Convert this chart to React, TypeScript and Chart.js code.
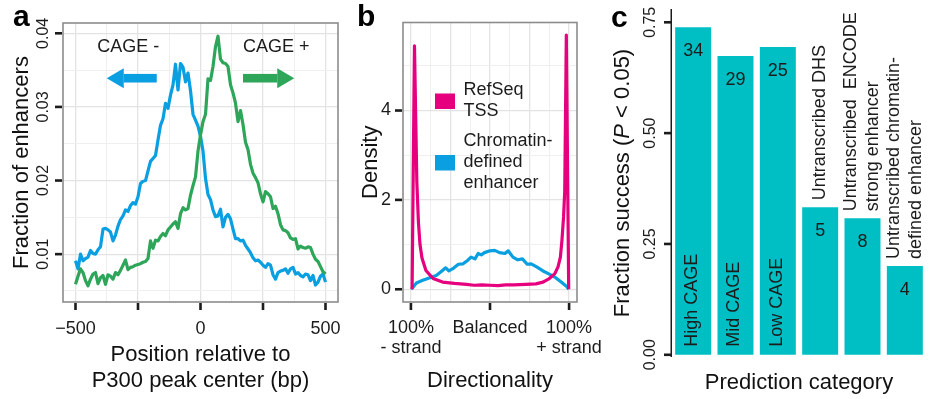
import React, { useEffect, useRef } from "react";
import { Chart, registerables } from "chart.js";

Chart.register(...registerables);

// ---------------- Data ----------------
// Panel a
const positionBp = [
  -500, -490, -480, -470, -460, -450, -440, -430, -420, -410,
  -400, -390, -380, -370, -360, -350, -340, -330, -320, -310,
  -300, -290, -280, -270, -260, -250, -240, -230, -220, -210,
  -200, -190, -180, -170, -160, -150, -140, -130, -120, -110,
  -100, -90, -80, -70, -60, -50, -40, -30, -20, -10,
  0,
  10, 20, 30, 40, 50, 60, 70, 80, 90, 100,
  110, 120, 130, 140, 150, 160, 170, 180, 190, 200,
  210, 220, 230, 240, 250, 260, 270, 280, 290, 300,
  310, 320, 330, 340, 350, 360, 370, 380, 390, 400,
  410, 420, 430, 440, 450, 460, 470, 480, 490, 500,
];
const cageMinusFraction = [
  0.0091, 0.0080, 0.0100, 0.0091, 0.0094, 0.0096, 0.0105, 0.0101, 0.0100, 0.0106,
  0.0110, 0.0134, 0.0135, 0.0133, 0.0130, 0.0118, 0.0126, 0.0138, 0.0147, 0.0152,
  0.0160, 0.0158, 0.0166, 0.0170, 0.0168, 0.0178, 0.0196, 0.0199, 0.0200, 0.0213,
  0.0226, 0.0230, 0.0234, 0.0255, 0.0275, 0.0284, 0.0305, 0.0298, 0.0316, 0.0330,
  0.0358, 0.0323, 0.0359, 0.0354, 0.0334, 0.0346, 0.0322, 0.0290, 0.0282, 0.0274,
  0.0260,
  0.0240, 0.0203, 0.0181, 0.0174, 0.0160, 0.0151, 0.0152, 0.0161, 0.0137, 0.0150,
  0.0154, 0.0148, 0.0134, 0.0121, 0.0121, 0.0118, 0.0119, 0.0112, 0.0107, 0.0102,
  0.0095, 0.0091, 0.0092, 0.0089, 0.0085, 0.0082, 0.0087, 0.0085, 0.0072, 0.0066,
  0.0075, 0.0077, 0.0078, 0.0080, 0.0074, 0.0080, 0.0082, 0.0073, 0.0075, 0.0071,
  0.0069, 0.0073, 0.0072, 0.0064, 0.0071, 0.0058, 0.0062, 0.0070, 0.0073, 0.0062,
];
const cagePlusFraction = [
  0.0059, 0.0070, 0.0080, 0.0075, 0.0064, 0.0057, 0.0066, 0.0073, 0.0075, 0.0060,
  0.0068, 0.0071, 0.0059, 0.0072, 0.0070, 0.0066, 0.0075, 0.0072, 0.0078, 0.0085,
  0.0092, 0.0079, 0.0082, 0.0083, 0.0085, 0.0086, 0.0087, 0.0089, 0.0090, 0.0094,
  0.0118, 0.0108, 0.0119, 0.0118, 0.0124, 0.0128, 0.0125, 0.0133, 0.0137, 0.0141,
  0.0144, 0.0135, 0.0155, 0.0163, 0.0160, 0.0162, 0.0180, 0.0193, 0.0205, 0.0240,
  0.0262,
  0.0280, 0.0290, 0.0338, 0.0336, 0.0355, 0.0382, 0.0396, 0.0365, 0.0360, 0.0359,
  0.0355, 0.0330, 0.0319, 0.0305, 0.0280, 0.0295, 0.0276, 0.0252, 0.0242, 0.0222,
  0.0210, 0.0204, 0.0197, 0.0182, 0.0171, 0.0185, 0.0182, 0.0178, 0.0162, 0.0165,
  0.0155, 0.0140, 0.0133, 0.0132, 0.0129, 0.0122, 0.0120, 0.0121, 0.0107, 0.0111,
  0.0109, 0.0108, 0.0110, 0.0109, 0.0100, 0.0093, 0.0090, 0.0083, 0.0076, 0.0073,
];
const positionGrid = [-500, -375, -250, -125, 0, 125, 250, 375, 500];
const positionTicks = [-500, -250, 0, 250, 500];
const positionTickLabels = ["\u2212500", "", "0", "", "500"];
const fractionGrid = [0.005, 0.01, 0.015, 0.02, 0.025, 0.03, 0.035, 0.04];
const fractionTicks = [0.01, 0.02, 0.03, 0.04];
const fractionTickLabels = ["0.01", "0.02", "0.03", "0.04"];
const cageMinusArrow = [-175, -375];
const cagePlusArrow = [170, 375];
const cageArrowLevel = 0.0339;
const cageLabelX = [-289, 303];
const cageLabelText = ["CAGE -", "CAGE +"];
const cageLabelLevel = 0.0381;

// Panel b
const refseqDirectionality = [
  -0.985, -0.955, -0.925, -0.905, -0.885, -0.86, -0.81, -0.72, -0.6, -0.45,
  -0.3, -0.2, -0.1, 0, 0.1, 0.2, 0.3, 0.45, 0.58, 0.67,
  0.75, 0.82, 0.86, 0.89, 0.91, 0.93, 0.945, 0.965, 0.995,
];
const refseqDensity = [
  0.0, 5.45, 2.4, 1.5, 1.0, 0.7, 0.42, 0.24, 0.16, 0.13,
  0.11, 0.09, 0.1, 0.09, 0.08, 0.1, 0.1, 0.11, 0.12, 0.16,
  0.24, 0.35, 0.5, 0.72, 1.1, 1.62, 2.2, 5.69, 0.0,
];
const enhancerDirectionality = [
  -0.995, -0.93, -0.85, -0.76, -0.68, -0.62, -0.56, -0.52, -0.47, -0.4,
  -0.34, -0.28, -0.24, -0.19, -0.15, -0.11, -0.07, 0.0, 0.06, 0.12,
  0.19, 0.23, 0.29, 0.35, 0.41, 0.47, 0.52, 0.59, 0.67, 0.75,
  0.83, 0.9, 0.965, 0.995,
];
const enhancerDensity = [
  0.0, 0.14, 0.2, 0.26, 0.31, 0.39, 0.48, 0.41, 0.46, 0.56,
  0.57, 0.65, 0.72, 0.68, 0.8, 0.77, 0.82, 0.86, 0.87, 0.82,
  0.8, 0.86, 0.72, 0.66, 0.68, 0.56, 0.57, 0.5, 0.41, 0.34,
  0.26, 0.16, 0.07, 0.0,
];
const directionGrid = [-1, -0.75, -0.5, -0.25, 0, 0.25, 0.5, 0.75, 1];
const directionTicks = [-1, 0, 1];
const directionTickLabels = [["100%", "- strand"], ["Balanced"], ["100%", "+ strand"]];
const densityGrid = [0, 1, 2, 3, 4, 5];
const densityTicks = [0, 2, 4];
const densityTickLabels = ["0", "2", "4"];
const densityLegend = [
  { lines: ["RefSeq", "TSS"], color: "#E6007E" },
  { lines: ["Chromatin-", "defined", "enhancer"], color: "#0A9FE0" },
];

// Panel c
const predictionCategories = [
  "High CAGE",
  "Mid CAGE",
  "Low CAGE",
  "Untranscribed DHS",
  "Untranscribed ENCODE strong enhancer",
  "Untranscribed chromatin-defined enhancer",
];
const categoryLabelLines = [
  ["High CAGE"],
  ["Mid CAGE"],
  ["Low CAGE"],
  ["Untranscribed DHS"],
  ["Untranscribed  ENCODE", "strong enhancer"],
  ["Untranscribed chromatin-", "defined enhancer"],
];
const fractionSuccess = [0.739, 0.674, 0.694, 0.333, 0.308, 0.2];
const testedCounts = [34, 29, 25, 5, 8, 4];
const successTicks = [0, 0.25, 0.5, 0.75];
const successTickLabels = ["0.00", "0.25", "0.50", "0.75"];

// ---------------- Style ----------------
const FONT = '"Liberation Sans", Arial, Helvetica, sans-serif';
const INK = "#1c1c1c";
const BLUE = "#0A9FE0";
const GREEN = "#2EA65A";
const PINK = "#E6007E";
const TEAL = "#00BFC4";
const GRID_MAJOR = "#E3E3E3";
const GRID_MINOR = "#EFEFEF";
const BORDER = "#8C8C8C";

function near(v: number, step: number) {
  const r = v / step;
  return Math.abs(r - Math.round(r)) < 1e-6;
}

function rotText(ctx: CanvasRenderingContext2D, text: string, x: number, y: number, align: CanvasTextAlign = "center") {
  ctx.save();
  ctx.translate(x, y);
  ctx.rotate(-Math.PI / 2);
  ctx.textAlign = align;
  ctx.fillText(text, 0, 0);
  ctx.restore();
}

function panelLetter(ctx: CanvasRenderingContext2D, letter: string, x: number, y: number) {
  ctx.save();
  ctx.fillStyle = "#000";
  ctx.font = `bold 30px ${FONT}`;
  ctx.textAlign = "left";
  ctx.textBaseline = "alphabetic";
  ctx.fillText(letter, x, y);
  ctx.restore();
}

function hiddenLinear(min: number, max: number, grid: number[] | null, majorStep: number, horizontal: boolean) {
  return {
    type: "linear" as const,
    min,
    max,
    afterFit: (s: any) => {
      if (horizontal) s.height = 0;
      else s.width = 0;
    },
    afterBuildTicks: (s: any) => {
      if (grid) s.ticks = grid.map((v) => ({ value: v }));
    },
    ticks: { display: false },
    border: { display: false },
    title: { display: false },
    grid: {
      display: !!grid,
      drawTicks: false,
      color: (c: any) => (c.tick && near(c.tick.value, majorStep) ? GRID_MAJOR : GRID_MINOR),
      lineWidth: (c: any) => (c.tick && near(c.tick.value, majorStep) ? 1.3 : 1),
    },
  };
}

// ---------------- Panel a ----------------
function buildA(canvas: HTMLCanvasElement) {
  const deco = {
    id: "decoA",
    afterDraw(chart: any) {
      const ctx: CanvasRenderingContext2D = chart.ctx;
      const { left, right, top, bottom } = chart.chartArea;
      const xs = chart.scales.x;
      const ys = chart.scales.y;
      ctx.save();
      ctx.strokeStyle = BORDER;
      ctx.lineWidth = 1.6;
      ctx.strokeRect(left, top, right - left, bottom - top);

      ctx.fillStyle = INK;
      positionTicks.forEach((v) => {
        const x = xs.getPixelForValue(v);
        ctx.fillRect(x - 1.3, bottom + 1, 2.6, 7);
      });
      fractionTicks.forEach((v) => {
        const y = ys.getPixelForValue(v);
        ctx.fillRect(left - 8, y - 1.3, 7, 2.6);
      });

      ctx.font = `18px ${FONT}`;
      ctx.textAlign = "center";
      ctx.textBaseline = "middle";
      positionTicks.forEach((v, i) => {
        ctx.fillText(positionTickLabels[i], xs.getPixelForValue(v), bottom + 27);
      });
      ctx.font = `16px ${FONT}`;
      fractionTicks.forEach((v, i) => {
        rotText(ctx, fractionTickLabels[i], left - 19.5, ys.getPixelForValue(v));
      });

      // arrows and labels
      const arrows = [
        { a: cageMinusArrow, c: BLUE },
        { a: cagePlusArrow, c: GREEN },
      ];
      const ay = ys.getPixelForValue(cageArrowLevel);
      arrows.forEach(({ a, c }) => {
        const x0 = xs.getPixelForValue(a[0]);
        const x1 = xs.getPixelForValue(a[1]);
        const dir = Math.sign(x1 - x0);
        const hb = x1 - dir * 17;
        ctx.fillStyle = c;
        ctx.fillRect(Math.min(x0, hb), ay - 4.3, Math.abs(hb - x0), 8.6);
        ctx.beginPath();
        ctx.moveTo(x1, ay);
        ctx.lineTo(hb, ay - 10);
        ctx.lineTo(hb, ay + 10);
        ctx.closePath();
        ctx.fill();
      });
      ctx.fillStyle = INK;
      ctx.font = `18px ${FONT}`;
      cageLabelX.forEach((v, i) => {
        ctx.fillText(cageLabelText[i], xs.getPixelForValue(v), ys.getPixelForValue(cageLabelLevel));
      });

      ctx.fillStyle = "#111";
      ctx.font = `22px ${FONT}`;
      const cx = (left + right) / 2;
      ctx.fillText("Position relative to", cx, 355);
      ctx.fillText("P300 peak center (bp)", cx, 381);
      rotText(ctx, "Fraction of enhancers", 22, (top + bottom) / 2);
      ctx.restore();
      panelLetter(ctx, "a", 13, 26);
    },
  };
  return new Chart(canvas, {
    type: "line",
    data: {
      datasets: [
        {
          label: "CAGE +",
          data: positionBp.map((x, i) => ({ x, y: cagePlusFraction[i] })),
          borderColor: GREEN,
          borderWidth: 3.2,
          pointRadius: 0,
          borderJoinStyle: "round",
        },
        {
          label: "CAGE -",
          data: positionBp.map((x, i) => ({ x, y: cageMinusFraction[i] })),
          borderColor: BLUE,
          borderWidth: 3.2,
          pointRadius: 0,
          borderJoinStyle: "round",
        },
      ],
    },
    options: {
      responsive: false,
      animation: false,
      devicePixelRatio: 1,
      events: [],
      layout: { padding: { left: 63, top: 23, right: 12, bottom: 97 } },
      plugins: { legend: { display: false }, tooltip: { enabled: false } },
      scales: {
        x: hiddenLinear(-550, 550, positionGrid, 250, true),
        y: hiddenLinear(0.0035, 0.0414, fractionGrid, 0.01, false),
      },
    } as any,
    plugins: [deco],
  });
}

// ---------------- Panel b ----------------
function buildB(canvas: HTMLCanvasElement) {
  const deco = {
    id: "decoB",
    afterDraw(chart: any) {
      const ctx: CanvasRenderingContext2D = chart.ctx;
      const { left, right, top, bottom } = chart.chartArea;
      const xs = chart.scales.x;
      const ys = chart.scales.y;
      ctx.save();
      ctx.strokeStyle = BORDER;
      ctx.lineWidth = 1.6;
      ctx.strokeRect(left, top, right - left, bottom - top);

      ctx.fillStyle = INK;
      directionTicks.forEach((v) => {
        const x = xs.getPixelForValue(v);
        ctx.fillRect(x - 1.3, bottom + 1, 2.6, 7);
      });
      densityTicks.forEach((v) => {
        const y = ys.getPixelForValue(v);
        ctx.fillRect(left - 8, y - 1.3, 7, 2.6);
      });

      ctx.font = `18px ${FONT}`;
      ctx.textBaseline = "middle";
      ctx.textAlign = "right";
      densityTicks.forEach((v, i) => {
        ctx.fillText(densityTickLabels[i], left - 12, ys.getPixelForValue(v));
      });
      ctx.textAlign = "center";
      directionTicks.forEach((v, i) => {
        directionTickLabels[i].forEach((line, j) => {
          ctx.fillText(line, xs.getPixelForValue(v), bottom + 26 + j * 20.5);
        });
      });

      // legend
      ctx.textAlign = "left";
      const lx = left + 32;
      let ly = top + 58;
      densityLegend.forEach((item) => {
        const n = item.lines.length;
        const blockH = n * 21;
        ctx.fillStyle = item.color;
        ctx.fillRect(lx, ly + blockH / 2 - 8, 20, 15.5);
        ctx.fillStyle = INK;
        item.lines.forEach((line, j) => {
          ctx.fillText(line, lx + 28.5, ly + 10 + j * 21);
        });
        ly += blockH + 9;
      });

      ctx.fillStyle = "#111";
      ctx.font = `22px ${FONT}`;
      ctx.textAlign = "center";
      ctx.fillText("Directionality", (left + right) / 2, 381);
      rotText(ctx, "Density", 31, (top + bottom) / 2);
      ctx.restore();
      panelLetter(ctx, "b", 17, 26);
    },
  };
  return new Chart(canvas, {
    type: "line",
    data: {
      datasets: [
        {
          label: "RefSeq TSS",
          data: refseqDirectionality.map((x, i) => ({ x, y: refseqDensity[i] })),
          borderColor: PINK,
          borderWidth: 3.2,
          pointRadius: 0,
          borderJoinStyle: "round",
        },
        {
          label: "Chromatin-defined enhancer",
          data: enhancerDirectionality.map((x, i) => ({ x, y: enhancerDensity[i] })),
          borderColor: BLUE,
          borderWidth: 3.2,
          pointRadius: 0,
          borderJoinStyle: "round",
        },
      ],
    },
    options: {
      responsive: false,
      animation: false,
      devicePixelRatio: 1,
      events: [],
      layout: { padding: { left: 63, top: 22.5, right: 33, bottom: 97 } },
      plugins: { legend: { display: false }, tooltip: { enabled: false } },
      scales: {
        x: hiddenLinear(-1.1, 1.1, directionGrid, 0.5, true),
        y: hiddenLinear(-0.285, 5.97, densityGrid, 2, false),
      },
    } as any,
    plugins: [deco],
  });
}

// ---------------- Panel c ----------------
function buildC(canvas: HTMLCanvasElement) {
  const deco = {
    id: "decoC",
    afterDraw(chart: any) {
      const ctx: CanvasRenderingContext2D = chart.ctx;
      const { left, right, top, bottom } = chart.chartArea;
      const ys = chart.scales.y;
      const bars = chart.getDatasetMeta(0).data;
      ctx.save();
      ctx.fillStyle = INK;
      ctx.fillRect(left - 1.5, top, 1.5, bottom - top);
      successTicks.forEach((v) => {
        const y = ys.getPixelForValue(v);
        ctx.fillRect(left - 8, y - 1.3, 7, 2.6);
      });
      ctx.font = `16px ${FONT}`;
      ctx.textBaseline = "middle";
      successTicks.forEach((v, i) => {
        rotText(ctx, successTickLabels[i], left - 21, ys.getPixelForValue(v));
      });

      ctx.font = `18px ${FONT}`;
      const base = ys.getPixelForValue(0);
      bars.forEach((bar: any, i: number) => {
        ctx.textAlign = "center";
        ctx.fillText(String(testedCounts[i]), bar.x, bar.y + 24);
        const lines = categoryLabelLines[i];
        const n = lines.length;
        lines.forEach((line, j) => {
          const off = (j - (n - 1) / 2) * 22;
          if (i < 3) {
            rotText(ctx, line, bar.x - 1 + off, base - 8, "left");
          } else {
            rotText(ctx, line, bar.x + off, bar.y - 7, "left");
          }
        });
      });

      ctx.fillStyle = "#111";
      ctx.font = `22px ${FONT}`;
      ctx.textAlign = "center";
      ctx.fillText("Prediction category", (left + right) / 2, 383);

      // y title with italic P
      const parts: [string, boolean][] = [
        ["Fraction success (", false],
        ["P", true],
        [" < 0.05)", false],
      ];
      ctx.save();
      ctx.translate(13, (top + bottom) / 2);
      ctx.rotate(-Math.PI / 2);
      ctx.textAlign = "left";
      let total = 0;
      const widths = parts.map(([t, it]) => {
        ctx.font = `${it ? "italic " : ""}22px ${FONT}`;
        const w = ctx.measureText(t).width;
        total += w;
        return w;
      });
      let x = -total / 2;
      parts.forEach(([t, it], k) => {
        ctx.font = `${it ? "italic " : ""}22px ${FONT}`;
        ctx.fillText(t, x, 0);
        x += widths[k];
      });
      ctx.restore();
      ctx.restore();
      panelLetter(ctx, "c", 1, 27);
    },
  };
  return new Chart(canvas, {
    type: "bar",
    data: {
      labels: predictionCategories,
      datasets: [
        {
          label: "Fraction success",
          data: fractionSuccess,
          backgroundColor: TEAL,
          borderWidth: 0,
          categoryPercentage: 0.85,
          barPercentage: 1,
        },
      ],
    },
    options: {
      responsive: false,
      animation: false,
      devicePixelRatio: 1,
      events: [],
      layout: { padding: { left: 62, top: 9, right: 5, bottom: 42 } },
      plugins: { legend: { display: false }, tooltip: { enabled: false } },
      scales: {
        x: {
          type: "category",
          afterFit: (s: any) => {
            s.height = 0;
          },
          ticks: { display: false },
          grid: { display: false, drawTicks: false },
          border: { display: false },
        },
        y: hiddenLinear(-0.005, 0.78, null, 1, false),
      },
    } as any,
    plugins: [deco],
  });
}

function PanelCanvas({ left, width, build }: { left: number; width: number; build: (c: HTMLCanvasElement) => Chart }) {
  const ref = useRef<HTMLCanvasElement>(null);
  useEffect(() => {
    const chart = build(ref.current as HTMLCanvasElement);
    return () => chart.destroy();
  }, [build]);
  return (
    <canvas
      ref={ref}
      width={width}
      height={399}
      style={{ position: "absolute", left, top: 0, width, height: 399 }}
    />
  );
}

export default function App() {
  return (
    <div
      style={{
        position: "fixed",
        left: 0,
        top: 0,
        width: 931,
        height: 399,
        background: "#fff",
        overflow: "hidden",
      }}
    >
      <PanelCanvas left={0} width={350} build={buildA} />
      <PanelCanvas left={340} width={270} build={buildB} />
      <PanelCanvas left={610} width={321} build={buildC} />
    </div>
  );
}
